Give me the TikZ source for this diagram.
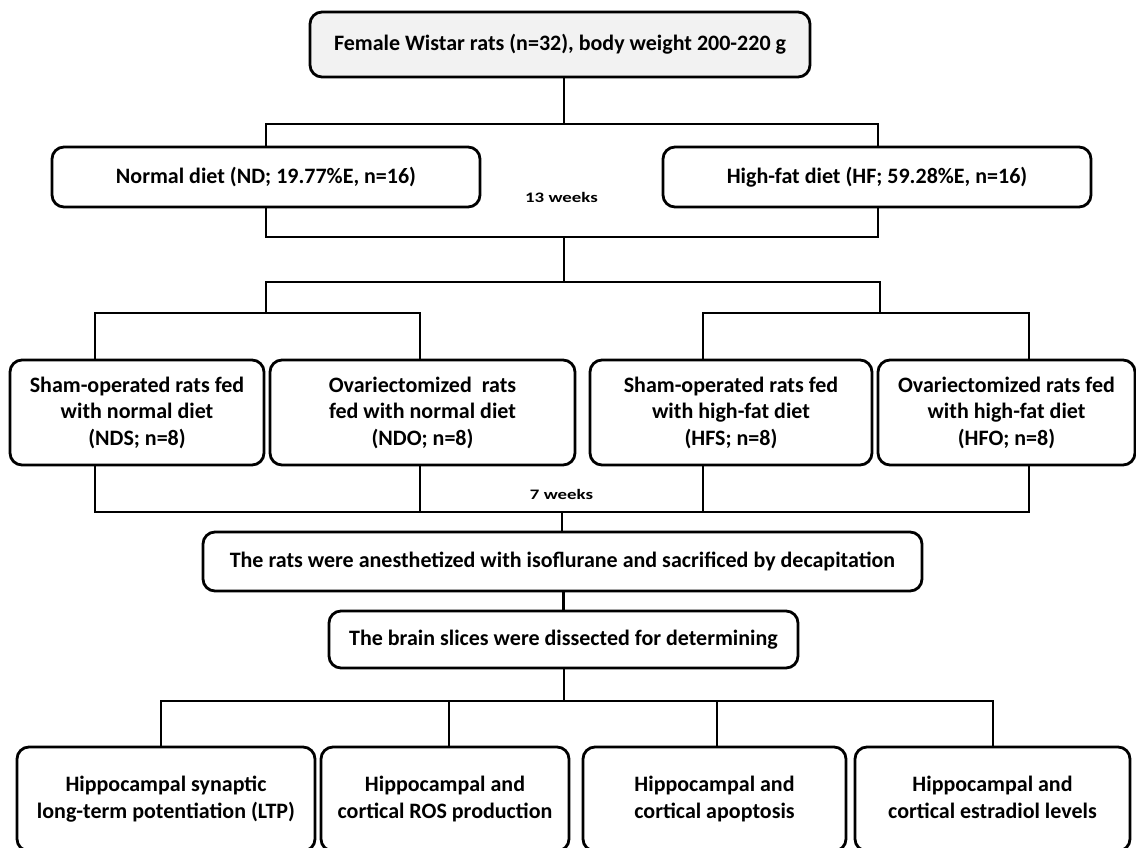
\documentclass[tikz,border=0pt]{standalone}
\usepackage{fontspec}
\setmainfont{Carlito}
\begin{document}
\begin{tikzpicture}[x=1pt,y=-1pt,
  box/.style={draw=black, line width=2.8pt, rounded corners=12pt, fill=white, align=center,
    inner sep=0pt, font=\bfseries\fontsize{22}{26.5}\selectfont},
  conn/.style={draw=black, line width=2.6pt},
  lbl/.style={font=\bfseries\fontsize{14.5}{16}\selectfont, inner sep=0pt}]
\path[use as bounding box, clip] (0,0) rectangle (1136,847);

\node[box, fill={rgb,255:red,242;green,242;blue,242}, minimum width=500pt, minimum height=65pt] (top) at (560,44.5)
  {Female Wistar rats (n=32), body weight 200-220 g};
\node[box, minimum width=428pt, minimum height=60pt] (nd) at (266,177) {Normal diet (ND; 19.77\%E, n=16)};
\node[box, minimum width=428pt, minimum height=60pt] (hf) at (877,177) {High-fat diet (HF; 59.28\%E, n=16)};
\node[lbl] (w13) at (561.5,197) {\scalebox{1.3}[1]{13 weeks}};

\node[box, minimum width=254pt, minimum height=105pt] (nds) at (137,412.5)
  {Sham-operated rats fed\\with normal diet\\(NDS; n=8)};
\node[box, minimum width=305pt, minimum height=105pt] (ndo) at (422.5,412.5)
  {Ovariectomized\ \ rats\\fed with normal diet\\(NDO; n=8)};
\node[box, minimum width=282pt, minimum height=105pt] (hfs) at (731,412.5)
  {Sham-operated rats fed\\with high-fat diet\\(HFS; n=8)};
\node[box, minimum width=257pt, minimum height=105pt] (hfo) at (1006.5,412.5)
  {Ovariectomized rats fed\\with high-fat diet\\(HFO; n=8)};
\node[lbl] (w7) at (561.5,494) {\scalebox{1.3}[1]{7 weeks}};

\node[box, minimum width=719pt, minimum height=59pt] (ana) at (562.5,561.5)
  {The rats were anesthetized with isoflurane and sacrificed by decapitation};
\node[box, minimum width=469pt, minimum height=57pt] (brain) at (563.5,639.5)
  {The brain slices were dissected for determining};

\node[box, minimum width=298pt, minimum height=104pt] (b1) at (166,799)
  {Hippocampal synaptic\\long-term potentiation (LTP)};
\node[box, minimum width=248pt, minimum height=104pt] (b2) at (445,799)
  {Hippocampal and\\cortical ROS production};
\node[box, minimum width=263pt, minimum height=104pt] (b3) at (714.5,799)
  {Hippocampal and\\cortical apoptosis};
\node[box, minimum width=275pt, minimum height=104pt] (b4) at (992.5,799)
  {Hippocampal and\\cortical estradiol levels\vphantom{(p}};

% junction coordinates
\coordinate (j0) at (564,124);
\coordinate (j0l) at (266,124);
\coordinate (j0r) at (878,124);
\coordinate (j1l) at (266,237);
\coordinate (j1r) at (878,237);
\coordinate (j1) at (564,237);
\coordinate (j2) at (564,282);
\coordinate (j2l) at (266,282);
\coordinate (j2r) at (880,282);
\coordinate (j3l) at (266,313);
\coordinate (j3r) at (880,313);
\coordinate (a1) at (95,313);
\coordinate (a2) at (420,313);
\coordinate (a3) at (703,313);
\coordinate (a4) at (1029,313);
\coordinate (c1) at (95,512);
\coordinate (c2) at (420,512);
\coordinate (c3) at (703,512);
\coordinate (c4) at (1029,512);
\coordinate (cm) at (562,512);
\coordinate (d0) at (564,701);
\coordinate (d1) at (161,701);
\coordinate (d2) at (449,701);
\coordinate (d3) at (717,701);
\coordinate (d4) at (993,701);

\draw[conn] (top.south -| j0) -- (j0);
\draw[conn] (j0l |- nd.north) -- (j0l) -- (j0r) -- (j0r |- hf.north);
\draw[conn] (j1l |- nd.south) -- (j1l) -- (j1r) -- (j1r |- hf.south);
\draw[conn] (j1) -- (j2);
\draw[conn] (j3l) -- (j2l) -- (j2r) -- (j3r);
\draw[conn] (a1 |- nds.north) -- (a1) -- (a2) -- (a2 |- ndo.north);
\draw[conn] (a3 |- hfs.north) -- (a3) -- (a4) -- (a4 |- hfo.north);
\draw[conn] (c1 |- nds.south) -- (c1) -- (c4) -- (c4 |- hfo.south);
\draw[conn] (c2 |- ndo.south) -- (c2);
\draw[conn] (c3 |- hfs.south) -- (c3);
\draw[conn] (cm) -- (cm |- ana.north);
\draw[conn] (ana.south -| brain.north) -- (brain.north);
\draw[conn] (brain.south -| d0) -- (d0);
\draw[conn] (d1 |- b1.north) -- (d1) -- (d4) -- (d4 |- b4.north);
\draw[conn] (d2) -- (d2 |- b2.north);
\draw[conn] (d3) -- (d3 |- b3.north);
\end{tikzpicture}
\end{document}
